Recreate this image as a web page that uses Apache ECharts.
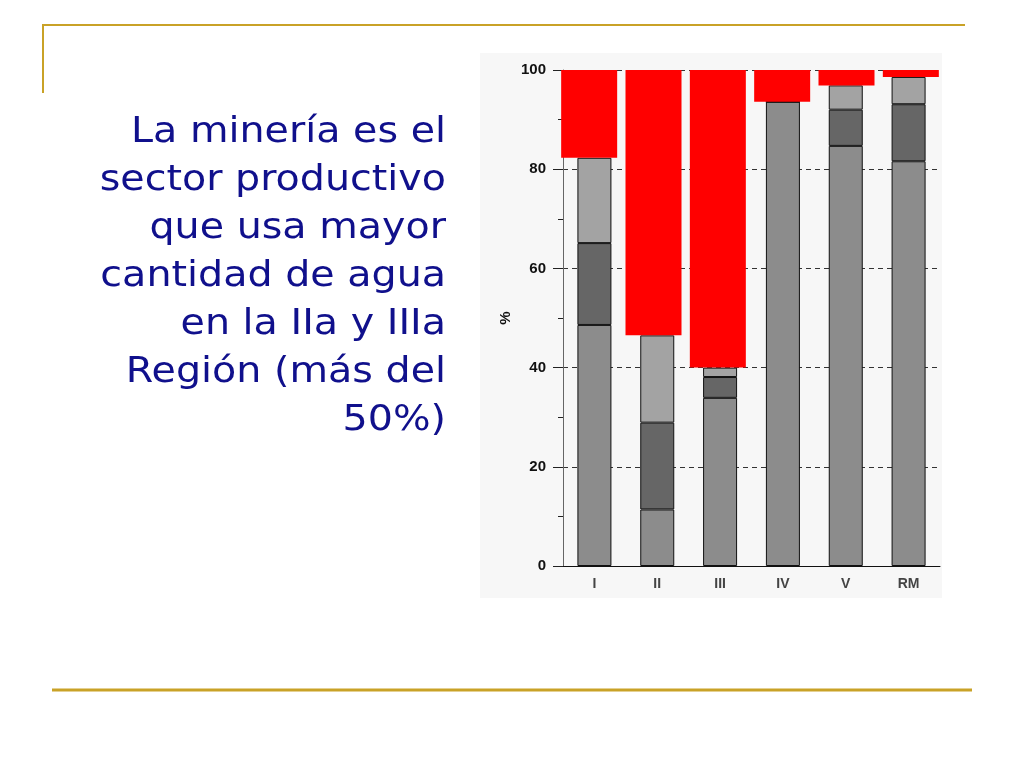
<!DOCTYPE html>
<html>
<head>
<meta charset="utf-8">
<title>Uso de agua por sector</title>
<script src="https://cdn.jsdelivr.net/npm/echarts@6/dist/echarts.min.js"></script>
<style>
  html, body { margin: 0; padding: 0; background: #fff; }
  #main { width: 1024px; height: 768px; }
</style>
</head>
<body>
<div id="main"></div>
<script>
// regiones
var regiones = ['I', 'II', 'III', 'IV', 'V', 'RM'];
// otros sectores (grises), de abajo hacia arriba, en %
var sectorBase = [48.6, 11.4, 33.9, 93.6, 84.7, 81.6];
var sectorMedio = [16.5, 17.5, 4.2, 0, 7.3, 11.5];
var sectorClaro = [17.2, 17.6, 1.9, 0, 4.9, 5.5];
// mineria (rojo), medida desde arriba
var mineria = [17.7, 53.5, 60.0, 6.4, 3.1, 1.4];
var yTicks = [0, 20, 40, 60, 80, 100];

var titulo = [
  'La minería es el',
  'sector productivo',
  'que usa mayor',
  'cantidad de agua',
  'en la IIa y IIIa',
  'Región (más del',
  '50%)'
];

var chartDom = document.getElementById('main');
var myChart = echarts.init(chartDom);
var option;

var grayBar = function (name, data, color) {
  return {
    name: name,
    type: 'bar',
    stack: 'otros',
    barWidth: 34,
    data: data,
    itemStyle: { color: color, borderColor: '#111', borderWidth: 1 },
    z: 2
  };
};

var graficos = [
  // fondo del grafico
  { type: 'rect', shape: { x: 480, y: 53, width: 462, height: 545 }, style: { fill: '#f7f7f7' }, z: -10 },
  // lineas doradas
  { type: 'line', shape: { x1: 42, y1: 25, x2: 965, y2: 25 }, style: { stroke: '#c9a227', lineWidth: 2 } },
  { type: 'line', shape: { x1: 43, y1: 25, x2: 43, y2: 93 }, style: { stroke: '#c9a227', lineWidth: 2 } },
  { type: 'line', shape: { x1: 52, y1: 690, x2: 972, y2: 690 }, style: { stroke: '#c9a227', lineWidth: 3 } }
];
titulo.forEach(function (t, i) {
  graficos.push({
    type: 'text',
    x: 446,
    y: 115 + i * 48,
    scaleX: 1.1,
    style: {
      x: 0,
      y: 0,
      text: t,
      fill: '#10108c',
      font: '36px "DejaVu Sans"',
      align: 'right',
      verticalAlign: 'top'
    }
  });
});

option = {
  animation: false,
  backgroundColor: '#fff',
  graphic: graficos,
  grid: [
    { left: 563, right: 84, top: 70, bottom: 202 },
    { left: 557, right: 81, top: 70, bottom: 202 }
  ],
  xAxis: [
    {
      type: 'category',
      gridIndex: 0,
      data: regiones,
      axisLine: { lineStyle: { color: '#111', width: 1 } },
      axisTick: { length: 8, lineStyle: { color: '#111' } },
      axisLabel: { color: '#444', fontWeight: 'bold', fontSize: 14, fontFamily: 'Arial', margin: 11 }
    },
    {
      type: 'category',
      gridIndex: 1,
      data: regiones,
      show: false
    }
  ],
  yAxis: [
    {
      type: 'value',
      gridIndex: 0,
      min: yTicks[0],
      max: yTicks[yTicks.length - 1],
      interval: 20,
      name: '%',
      nameLocation: 'middle',
      nameRotate: 90,
      nameGap: 50,
      nameTextStyle: { color: '#111', fontWeight: 'bold', fontSize: 15, fontFamily: 'Arial' },
      axisLine: { show: true, lineStyle: { color: '#666', width: 1 } },
      axisTick: { show: true, length: 10, lineStyle: { color: '#222' } },
      minorTick: { show: true, splitNumber: 2, length: 5, lineStyle: { color: '#222' } },
      axisLabel: { color: '#111', fontWeight: 'bold', fontSize: 15, fontFamily: 'Arial', margin: 17 },
      splitLine: { show: true, lineStyle: { color: '#333', type: [5, 4], width: 1 } }
    },
    {
      type: 'value',
      gridIndex: 1,
      min: 0,
      max: 100,
      inverse: true,
      show: false,
      splitLine: { show: false }
    }
  ],
  series: [
    grayBar('Otros 1', sectorBase, '#8c8c8c'),
    grayBar('Otros 2', sectorMedio, '#666666'),
    grayBar('Otros 3', sectorClaro, '#a3a3a3'),
    {
      name: 'Minería',
      type: 'bar',
      xAxisIndex: 1,
      yAxisIndex: 1,
      barWidth: 56,
      data: mineria,
      itemStyle: { color: '#ff0000' },
      z: 3
    }
  ]
};

option && myChart.setOption(option);
</script>
</body>
</html>
